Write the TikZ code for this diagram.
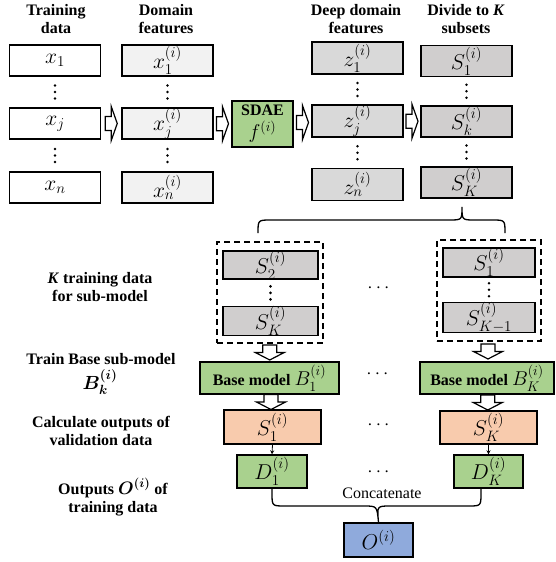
\RequirePackage{fix-cm}
\documentclass[tikz,border=0pt]{standalone}
\usepackage{amsmath,bm}
\usepackage{fontspec}
\setmainfont{Liberation Serif}
\usetikzlibrary{arrows.meta,calc}
\definecolor{cdom}{HTML}{F2F2F2}
\definecolor{cdeep}{HTML}{D9D9D9}
\definecolor{csub}{HTML}{D0CECE}
\definecolor{cgreen}{HTML}{A9D18E}
\definecolor{corange}{HTML}{F8CBAD}
\definecolor{cblue}{HTML}{8FAADC}
\newcommand{\lgmath}[1]{{\fontsize{20}{22}\selectfont$#1$}}
\begin{document}
\begin{tikzpicture}[x=1pt,y=-1pt, font=\fontsize{16}{18}\selectfont,
  bx/.style={draw, line width=1.4pt, inner sep=0pt, minimum width=91pt, minimum height=31pt, font=\fontsize{21.5}{23}\selectfont},
  txtbx/.style={bx, font=\fontsize{16}{18}\selectfont\bfseries},
  dbox/.style={draw, line width=1.3pt, dash pattern=on 6pt off 4pt, inner sep=0pt},
  lab/.style={align=center, font=\fontsize{16}{18}\selectfont\bfseries},
  hd/.style={font=\fontsize{19}{20}\selectfont},
  brace/.style={line width=1.3pt},
  thinarr/.style={line width=0.8pt, -{Stealth[length=4pt,width=4pt]}},
  vdotsp/.pic={\fill (0,-6.5) circle (1.4) (0,0) circle (1.4) (0,6.5) circle (1.4);},
  rarr/.pic={\draw[line width=1.2pt, fill=white] (-6,-7) -- (0,-7) -- (0,-17) -- (6,0) -- (0,17) -- (0,7) -- (-6,7) -- cycle;},
  darr/.pic={\draw[line width=1.2pt, fill=white] (-7,-7.5) -- (-7,0) -- (-14.5,0) -- (0,7.5) -- (14.5,0) -- (7,0) -- (7,-7.5) -- cycle;}]
\useasboundingbox (0,0) rectangle (555,562);

% header labels
\node[lab] (h1) at (56,19) {Training\\data};
\node[lab] (h2) at (166,19) {Domain\\features};
\node[lab] (h3) at (356,19) {Deep domain\\features};
\node[lab] (h4) at (466,19) {Divide to \textbf{\textit{K}}\\subsets};

% training data
\node[bx] (x1) at (55,60.5) {$x_1$};
\node[bx] (xj) at (55,123.5) {$x_j$};
\node[bx] (xn) at (55,187.5) {$x_n$};
\pic at ($(x1.south)!0.5!(xj.north)$) {vdotsp};
\pic at ($(xj.south)!0.5!(xn.north)$) {vdotsp};

% domain features
\node[bx, fill=cdom] (d1) at (167.5,60.5) {$x_1^{(i)}$};
\node[bx, fill=cdom] (dj) at (167.5,123.5) {$x_j^{(i)}$};
\node[bx, fill=cdom] (dn) at (167.5,187.5) {$x_n^{(i)}$};
\pic at ($(d1.south)!0.5!(dj.north)$) {vdotsp};
\pic at ($(dj.south)!0.5!(dn.north)$) {vdotsp};

% SDAE
\node[txtbx, fill=cgreen, minimum width=61pt, minimum height=46pt, align=center] (sdae) at (262.5,124) {SDAE\\[5pt]\lgmath{f^{(i)}}};

% deep features
\node[bx, fill=cdeep, minimum height=32pt] (z1) at (357.5,58) {$z_1^{(i)}$};
\node[bx, fill=cdeep, minimum height=32pt] (zj) at (357.5,121) {$z_j^{(i)}$};
\node[bx, fill=cdeep, minimum height=32pt] (zn) at (357.5,184.5) {$z_n^{(i)}$};
\pic at ($(z1.south)!0.5!(zj.north)$) {vdotsp};
\pic at ($(zj.south)!0.5!(zn.north)$) {vdotsp};

% subsets
\node[bx, fill=csub] (s1) at (466.5,61) {$S_1^{(i)}$};
\node[bx, fill=csub] (sk) at (466.5,121.5) {$S_k^{(i)}$};
\node[bx, fill=csub] (sK) at (466.5,182.5) {$S_K^{(i)}$};
\pic at ($(s1.south)!0.5!(sk.north)$) {vdotsp};
\pic at ($(sk.south)!0.5!(sK.north)$) {vdotsp};

% hollow arrows
\pic at ($(xj.east)!0.5!(dj.west)$) {rarr};
\pic at ($(dj.east)!0.5!(sdae.west)$) {rarr};
\pic at ($(sdae.east)!0.5!(zj.west)$) {rarr};
\pic at ($(zj.east)!0.5!(sk.west)$) {rarr};

% upper brace
\coordinate (bl) at (258,233);
\coordinate (bt) at (462,207);
\coordinate (br) at (505,233);
\draw[brace] (bl) .. controls (258,220) .. (271,220) -- (449,220)
  .. controls (462,220) .. (bt) .. controls (462,220) .. (475,220) -- (492,220)
  .. controls (505,220) .. (br);

% dashed groups
\node[dbox, minimum width=106pt, minimum height=101pt] (gl) at (270,292.5) {};
\node[dbox, minimum width=104pt, minimum height=101pt] (gr) at (489,290.5) {};
\node[bx, fill=csub, minimum width=95pt, minimum height=28pt] (a2) at (270.5,265) {$S_2^{(i)}$};
\node[bx, fill=csub, minimum width=95pt, minimum height=28pt] (aK) at (270.5,321) {$S_K^{(i)}$};
\pic at ($(a2.south)!0.5!(aK.north)$) {vdotsp};
\node[bx, fill=csub, minimum width=92pt, minimum height=29pt] (b1) at (489,262.5) {$S_1^{(i)}$};
\node[bx, fill=csub, minimum width=92pt, minimum height=29pt] (bK) at (489,317.5) {$S_{K-1}^{(i)}$};
\pic at ($(b1.south)!0.5!(bK.north)$) {vdotsp};
\node[hd] (e1) at (380,288) {$\cdots$};

% base models
\node[txtbx, fill=cgreen, minimum width=139pt, minimum height=32pt] (m1) at (269.5,378) {Base model \lgmath{B_1^{(i)}}};
\node[txtbx, fill=cgreen, minimum width=134pt, minimum height=32pt] (mK) at (487,378) {Base model \lgmath{B_K^{(i)}}};
\node[hd] (e2) at (379,374) {$\cdots$};
\pic at ($(gl.south)!0.5!(m1.north)$) {darr};
\pic at ($(gr.south)!0.5!(mK.north)$) {darr};

% validation outputs
\node[bx, fill=corange, minimum width=97pt, minimum height=34pt] (o1) at (272.5,427) {$S_1^{(i)}$};
\node[bx, fill=corange, minimum width=97pt, minimum height=33pt] (oK) at (488.5,427.5) {$S_K^{(i)}$};
\node[hd] (e3) at (380,425) {$\cdots$};
\pic at ($(m1.south)!0.5!(o1.north)$) {darr};
\pic at ($(mK.south)!0.5!(oK.north)$) {darr};

% D boxes
\node[bx, fill=cgreen, minimum width=70pt, minimum height=33pt] (D1) at (272,471.5) {$D_1^{(i)}$};
\node[bx, fill=cgreen, minimum width=69pt, minimum height=33pt] (DK) at (488.5,471.5) {$D_K^{(i)}$};
\node[hd] (e4) at (380,472) {$\cdots$};
\draw[thinarr] (o1.south) -- (D1.north);
\draw[thinarr] (oK.south) -- (DK.north);

% output
\node[bx, fill=cblue, minimum width=69pt, minimum height=34pt] (O) at (378.5,540) {$O^{(i)}$};
\node (cat) at (382,493) {Concatenate};
\coordinate (cl) at (272,488);
\coordinate (cr) at (481,488);
\draw[brace] (cl) -- (272,493) .. controls (272,506) .. (285,506) -- (364,506)
  .. controls (377,506) .. (O.north) .. controls (377,506) .. (390,506) -- (468,506)
  .. controls (481,506) .. (481,493) -- (cr);

% left labels
\node[lab] (l1) at (100,287) {\textit{K} training data\\for sub-model};
\node[lab] (l2) at (101,359) {Train Base sub-model};
\node[lab, font=\fontsize{19}{21}\selectfont] (l2b) at (100,382) {$\boldsymbol{B_k^{(i)}}$};
\node[lab] (l3) at (101,431) {Calculate outputs of\\validation data};
\node[lab] (l4) at (113,497) {Outputs {\fontsize{18}{18}\selectfont$\boldsymbol{O^{(i)}}$} of\\training data};
\end{tikzpicture}
\end{document}
